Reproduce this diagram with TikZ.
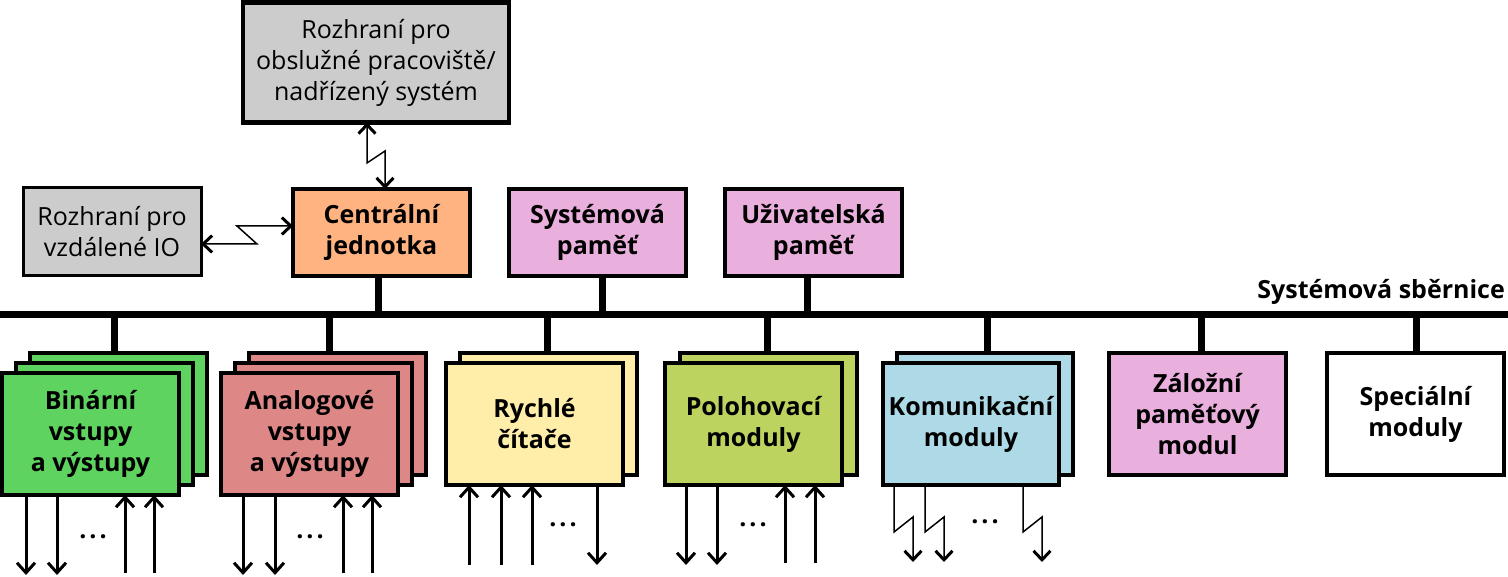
\documentclass[tikz,border=0pt]{standalone}
\usepackage{fontspec}
\setmainfont{Open Sans}
\usetikzlibrary{arrows.meta}
\definecolor{cGray}{HTML}{CCCCCC}
\definecolor{cOrange}{HTML}{FFB380}
\definecolor{cPink}{HTML}{E9AFDD}
\definecolor{cGreen}{HTML}{5FD35F}
\definecolor{cRed}{HTML}{DE8787}
\definecolor{cYellow}{HTML}{FFEEAA}
\definecolor{cOlive}{HTML}{BCD35F}
\definecolor{cBlue}{HTML}{ADDAE6}
\newcommand\bigf{\fontsize{25}{31}\selectfont}
\newcommand\mydots{.\kern3pt.\kern3pt.}
\tikzset{
  modbox/.style={draw, line width=3.5pt, outer sep=0pt, inner sep=0pt,
    minimum width=177pt, minimum height=122pt, anchor=north west,
    align=center, font=\bigf\bfseries},
  topbox/.style={modbox, minimum height=87pt},
  busline/.style={line width=7pt},
  arr/.style={line width=3pt, -{Straight Barb[length=10pt,width=18pt,line width=3pt]}},
  zzb/.style={line width=1.5pt, {Straight Barb[length=9pt,width=17pt,line width=3pt]}-{Straight Barb[length=9pt,width=17pt,line width=3pt]}},
  zz/.style={line width=1.5pt, -{Straight Barb[length=9pt,width=17pt,line width=3pt]}},
  dotsn/.style={font=\bigf\bfseries, inner sep=0pt}
}
\begin{document}
\begin{tikzpicture}[x=1pt,y=-1pt]
\useasboundingbox (0,0) rectangle (1508,577);
% upper interfaces
\node[modbox, line width=4.5pt, minimum width=266pt, minimum height=120pt, fill=cGray, font=\bigf] (obs) at (243,2.5) {Rozhraní pro\\obslužné pracoviště/\\nadřízený systém};
\node[topbox, line width=3pt, minimum width=178pt, minimum height=88pt, fill=cGray, font=\bigf] (rio) at (23,188) {Rozhraní pro\\vzdálené IO};
\node[topbox, fill=cOrange] (cpu) at (293,189) {Centrální\\jednotka};
\node[topbox, fill=cPink] (sysmem) at (509,189) {Systémová\\paměť};
\node[topbox, fill=cPink] (usrmem) at (725,189) {Uživatelská\\paměť};
% zigzag links
\coordinate (za) at (367,163); \coordinate (zb) at (385,151);
\draw[zzb] (za |- obs.south) -- (za) -- (zb) -- (zb |- cpu.north);
\coordinate (zc) at (257,244); \coordinate (zd) at (237,226);
\draw[zzb] (zc -| rio.east) -- (zc) -- (zd) -- (zd -| cpu.west);
% bus
\coordinate (busL) at (0,315); \coordinate (busR) at (1508,315);
\draw[busline] (busL) -- (busR);
\node[font=\bigf\bfseries, anchor=base east, inner sep=0pt] (buslbl) at (1505,299) {Systémová sběrnice};
\coordinate (t1) at (378,315); \coordinate (t2) at (602,315); \coordinate (t3) at (807,315);
\draw[busline] (cpu.south -| t1) -- (t1);
\draw[busline] (sysmem.south -| t2) -- (t2);
\draw[busline] (usrmem.south -| t3) -- (t3);
% modules
\node[modbox, fill=cGreen] (binB) at (30,353) {};
\node[modbox, fill=cGreen] (binM) at (16,363) {};
\node[modbox, fill=cGreen] (binF) at (2,373) {Binární\\vstupy\\a výstupy};
\node[modbox, fill=cRed] (anaB) at (249,353) {};
\node[modbox, fill=cRed] (anaM) at (235,363) {};
\node[modbox, fill=cRed] (anaF) at (221,373) {Analogové\\vstupy\\a výstupy};
\node[modbox, fill=cYellow] (cntB) at (460,353) {};
\node[modbox, fill=cYellow] (cntF) at (446,363) {Rychlé\\čítače};
\node[modbox, fill=cOlive] (posB) at (680,353) {};
\node[modbox, fill=cOlive] (posF) at (665,363) {Polohovací\\moduly};
\node[modbox, fill=cBlue, minimum width=176pt] (komB) at (897,353) {};
\node[modbox, fill=cBlue, minimum width=176pt] (komF) at (883,363) {Komunikační\\moduly};
\node[modbox, fill=cPink] (zal) at (1109,353) {Záložní\\paměťový\\modul};
\node[modbox, fill=white] (spec) at (1327,353) {Speciální\\moduly};
% module stubs
\coordinate (s1) at (114,315); \coordinate (s2) at (329,315); \coordinate (s3) at (547,315);
\coordinate (s4) at (767,315); \coordinate (s5) at (987,315); \coordinate (s6) at (1201,315);
\coordinate (s7) at (1416,315);
\draw[busline] (s1) -- (s1 |- binB.north);
\draw[busline] (s2) -- (s2 |- anaB.north);
\draw[busline] (s3) -- (s3 |- cntB.north);
\draw[busline] (s4) -- (s4 |- posB.north);
\draw[busline] (s5) -- (s5 |- komB.north);
\draw[busline] (s6) -- (s6 |- zal.north);
\draw[busline] (s7) -- (s7 |- spec.north);
% binary I/O
\foreach \x [count=\i] in {26,57} {\coordinate (bo\i) at (\x,575); \draw[arr] (bo\i |- binF.south) -- (bo\i);}
\foreach \x [count=\i] in {125,154} {\coordinate (bi\i) at (\x,573); \draw[arr] (bi\i) -- (bi\i |- binF.south);}
\node[dotsn] (bdots) at (93,537) {\mydots};
% analog I/O
\foreach \x [count=\i] in {243,275} {\coordinate (ao\i) at (\x,575); \draw[arr] (ao\i |- anaF.south) -- (ao\i);}
\foreach \x [count=\i] in {343,372} {\coordinate (ai\i) at (\x,573); \draw[arr] (ai\i) -- (ai\i |- anaF.south);}
\node[dotsn] (adots) at (310,537) {\mydots};
% counters
\foreach \x [count=\i] in {469,501,532} {\coordinate (ci\i) at (\x,565); \draw[arr] (ci\i) -- (ci\i |- cntF.south);}
\coordinate (co1) at (597,565); \draw[arr] (co1 |- cntF.south) -- (co1);
\node[dotsn] (cdots) at (563,525) {\mydots};
% positioning
\foreach \x [count=\i] in {686,717} {\coordinate (po\i) at (\x,565); \draw[arr] (po\i |- posF.south) -- (po\i);}
\foreach \x [count=\i] in {785,815} {\coordinate (pi\i) at (\x,563); \draw[arr] (pi\i) -- (pi\i |- posF.south);}
\node[dotsn] (pdots) at (753,525) {\mydots};
% communication
\foreach \x [count=\i] in {894,925,1023} {\coordinate (k\i) at (\x,532);
  \draw[zz] (k\i |- komF.south) -- (k\i) -- ++(19,-15) -- ++(0,45);}
\node[dotsn] (kdots) at (985,522) {\mydots};
\end{tikzpicture}
\end{document}
